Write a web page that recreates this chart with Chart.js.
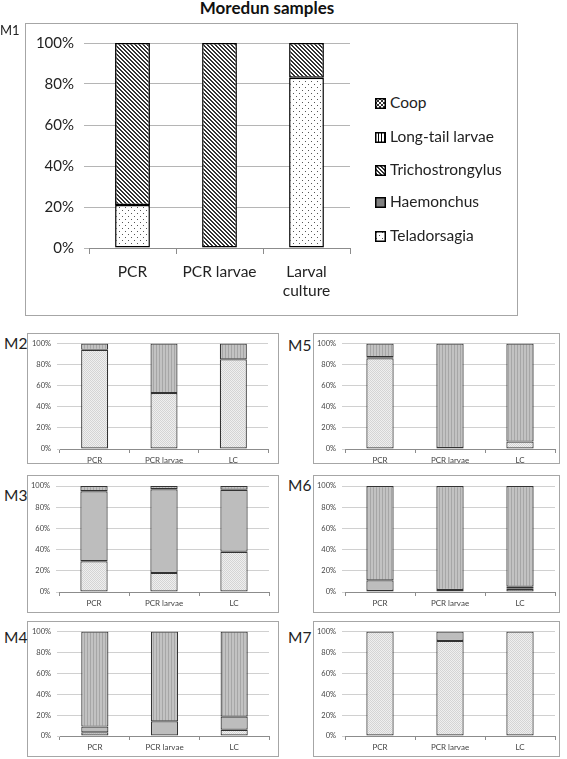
<!DOCTYPE html>
<html>
<head>
<meta charset="utf-8">
<script src="https://cdn.jsdelivr.net/npm/chart.js@4"></script>
<style>
body { margin: 0; width: 567px; height: 759px; position: relative; background: #fff; font-family: Lato, sans-serif; color: #111; overflow: hidden; }
.box { position: absolute; border: 1px solid #a6a6a6; box-sizing: border-box; }
canvas { position: absolute; }
.tag { position: absolute; font-size: 15.5px; line-height: 1; color: #222; }
#title { position: absolute; left: 167px; width: 200px; top: -1px; text-align: center; font-weight: bold; font-size: 17px; line-height: 18px; }
.leg { position: absolute; left: 375px; font-size: 15.5px; line-height: 1; color: #222; white-space: nowrap; }
.leg canvas { position: static; vertical-align: -1px; margin-right: 4px; }
</style>
</head>
<body>
<div id="title">Moredun samples</div>
<script>
// Stacked 100% bars, Moredun samples M1..M7
var panelNames = ['M1', 'M2', 'M3', 'M4', 'M5', 'M6', 'M7'];
var mainCategories = ['PCR', 'PCR larvae', ['Larval', 'culture']];
var smallCategories = ['PCR', 'PCR larvae', 'LC'];
var species = ['Teladorsagia', 'Haemonchus', 'Trichostrongylus', 'Long-tail larvae', 'Coop'];
var yTicks = [0, 20, 40, 60, 80, 100];

// one row per panel (M1..M7), columns: PCR, PCR larvae, LC
var teladorsagia     = [[21, 0, 83], [94, 53, 85], [29, 18, 38], [3.5, 0, 6], [86, 0, 7], [1, 0, 3], [100, 91, 100]];
var haemonchus       = [[0, 0, 0], [0, 0, 0], [66, 79, 58.5], [5.5, 14, 12.5], [1, 1, 0], [10, 2, 2], [0, 9, 0]];
var trichostrongylus = [[79, 100, 17], [6, 47, 15], [5, 3, 3.5], [91, 86, 81.5], [13, 99, 93], [89, 98, 95], [0, 0, 0]];
var longTail         = [[0, 0, 0], [0, 0, 0], [0, 0, 0], [0, 0, 0], [0, 0, 0], [0, 0, 0], [0, 0, 0]];
var coop             = [[0, 0, 0], [0, 0, 0], [0, 0, 0], [0, 0, 0], [0, 0, 0], [0, 0, 0], [0, 0, 0]];

// page boxes [x0, y0, x1, y1] and plot areas
var boxes = [[25, 23, 518, 316], [27, 333, 279, 464], [27, 475, 279, 613], [27, 621, 279, 757],
             [313, 333, 560, 464], [313, 475, 560, 613], [313, 621, 560, 757]];
var areas = [[89, 43, 350, 248], [60, 342, 268, 449], [59, 486, 269, 592], [60, 630, 269, 736],
             [345, 342, 555, 449], [345, 486, 555, 592], [345, 630, 555, 736]];
var tagPos = [[0, 24], [4, 336], [4, 488], [4, 630], [288, 338], [288, 478], [288, 630]];

function tile(w, h, bg, draw) {
    var c = document.createElement('canvas');
    c.width = w; c.height = h;
    var g = c.getContext('2d');
    g.fillStyle = bg;
    g.fillRect(0, 0, w, h);
    if (draw) draw(g);
    return g.createPattern(c, 'repeat');
}

var mainFills = [
    tile(6, 6, '#fff', function (g) { g.fillStyle = '#555'; g.fillRect(1, 1, 1, 1); g.fillRect(4, 4, 1, 1); }),
    '#808080',
    tile(4, 4, '#fff', function (g) { g.fillStyle = '#333'; for (var i = 0; i < 4; i++) { g.fillRect(i, i, 1, 1); g.fillRect((i + 1) % 4, i, 1, 1); } }),
    tile(3, 1, '#fff', function (g) { g.fillStyle = '#000'; g.fillRect(0, 0, 1, 1); }),
    tile(4, 4, '#fff', function (g) { g.fillStyle = '#333'; g.fillRect(0, 0, 2, 2); g.fillRect(2, 2, 2, 2); })
];
var smallFills = [
    tile(2, 2, '#efefef', function (g) { g.fillStyle = '#d4d4d4'; g.fillRect(0, 0, 1, 1); g.fillRect(1, 1, 1, 1); }),
    '#bdbdbd',
    tile(3, 1, '#c2c2c2', function (g) { g.fillStyle = '#a6a6a6'; g.fillRect(0, 0, 1, 1); }),
    tile(3, 1, '#dddddd', function (g) { g.fillStyle = '#888'; g.fillRect(0, 0, 1, 1); }),
    tile(2, 2, '#e8e8e8', function (g) { g.fillStyle = '#aaa'; g.fillRect(0, 0, 1, 1); })
];
var seriesData = [teladorsagia, haemonchus, trichostrongylus, longTail, coop];

function makePanel(i) {
    var isMain = i === 0;
    var b = boxes[i], a = areas[i];
    var w = b[2] - b[0], h = b[3] - b[1];

    var box = document.createElement('div');
    box.className = 'box';
    box.style.left = b[0] + 'px'; box.style.top = b[1] + 'px';
    box.style.width = w + 'px'; box.style.height = h + 'px';
    document.body.appendChild(box);

    var tag = document.createElement('div');
    tag.className = 'tag';
    tag.textContent = panelNames[i];
    tag.style.left = tagPos[i][0] + 'px'; tag.style.top = tagPos[i][1] + 'px';
    if (isMain) tag.style.fontSize = '13px';
    document.body.appendChild(tag);

    var cv = document.createElement('canvas');
    cv.width = w; cv.height = h;
    cv.style.left = b[0] + 'px'; cv.style.top = b[1] + 'px';
    document.body.appendChild(cv);

    var fills = isMain ? mainFills : smallFills;
    var datasets = species.map(function (name, k) {
        return {
            label: name,
            data: seriesData[k][i],
            backgroundColor: fills[k],
            borderColor: isMain ? '#000' : '#333',
            borderWidth: function (c) { return c.raw > 0 ? (isMain ? 1.5 : 1.2) : 0; },
            borderSkipped: false,
            barPercentage: isMain ? 0.4 : 0.39,
            categoryPercentage: 1
        };
    });

    var txt = isMain ? '#222' : '#444';
    new Chart(cv, {
        type: 'bar',
        data: { labels: isMain ? mainCategories : smallCategories, datasets: datasets },
        options: {
            responsive: false,
            animation: false,
            devicePixelRatio: 1,
            layout: { padding: { left: 0, top: a[1] - b[1], right: b[2] - a[2], bottom: 0 } },
            plugins: { legend: { display: false }, tooltip: { enabled: false } },
            scales: {
                x: {
                    stacked: true,
                    grid: { offset: true, drawOnChartArea: false, tickLength: isMain ? 6 : 4, color: '#8c8c8c' },
                    border: { color: '#8c8c8c' },
                    ticks: { color: txt, padding: isMain ? 9 : 3, font: { family: 'Lato', size: isMain ? 15.5 : 8 }, },
                    afterFit: function (s) { s.height = b[3] - a[3]; }
                },
                y: {
                    stacked: true,
                    min: 0,
                    max: 100,
                    afterBuildTicks: function (s) { s.ticks = yTicks.map(function (v) { return { value: v }; }); },
                    grid: { color: isMain ? '#b5b5b5' : '#d0d0d0', tickLength: isMain ? 5 : 3 },
                    border: { display: false },
                    ticks: {
                        color: txt,
                        padding: isMain ? 10 : 6,
                        font: { family: 'Lato', size: isMain ? 15 : 7.5 },
                        callback: function (v) { return v + '%'; }
                    },
                    afterFit: function (s) { s.width = a[0] - b[0]; }
                }
            }
        }
    });
}

// HTML legend for M1 (top entry = last series)
var legendY = [95, 129, 162, 194, 228];
species.slice().reverse().forEach(function (name, j) {
    var k = species.length - 1 - j;
    var row = document.createElement('div');
    row.className = 'leg';
    row.style.top = legendY[j] + 'px';
    var sw = document.createElement('canvas');
    sw.width = 11; sw.height = 11;
    var g = sw.getContext('2d');
    g.fillStyle = mainFills[k];
    g.fillRect(0, 0, 11, 11);
    g.strokeStyle = '#000';
    g.lineWidth = 1.5;
    g.strokeRect(0.75, 0.75, 9.5, 9.5);
    row.appendChild(sw);
    row.appendChild(document.createTextNode(name));
    document.body.appendChild(row);
});

for (var i = 0; i < panelNames.length; i++) makePanel(i);
</script>
</body>
</html>
